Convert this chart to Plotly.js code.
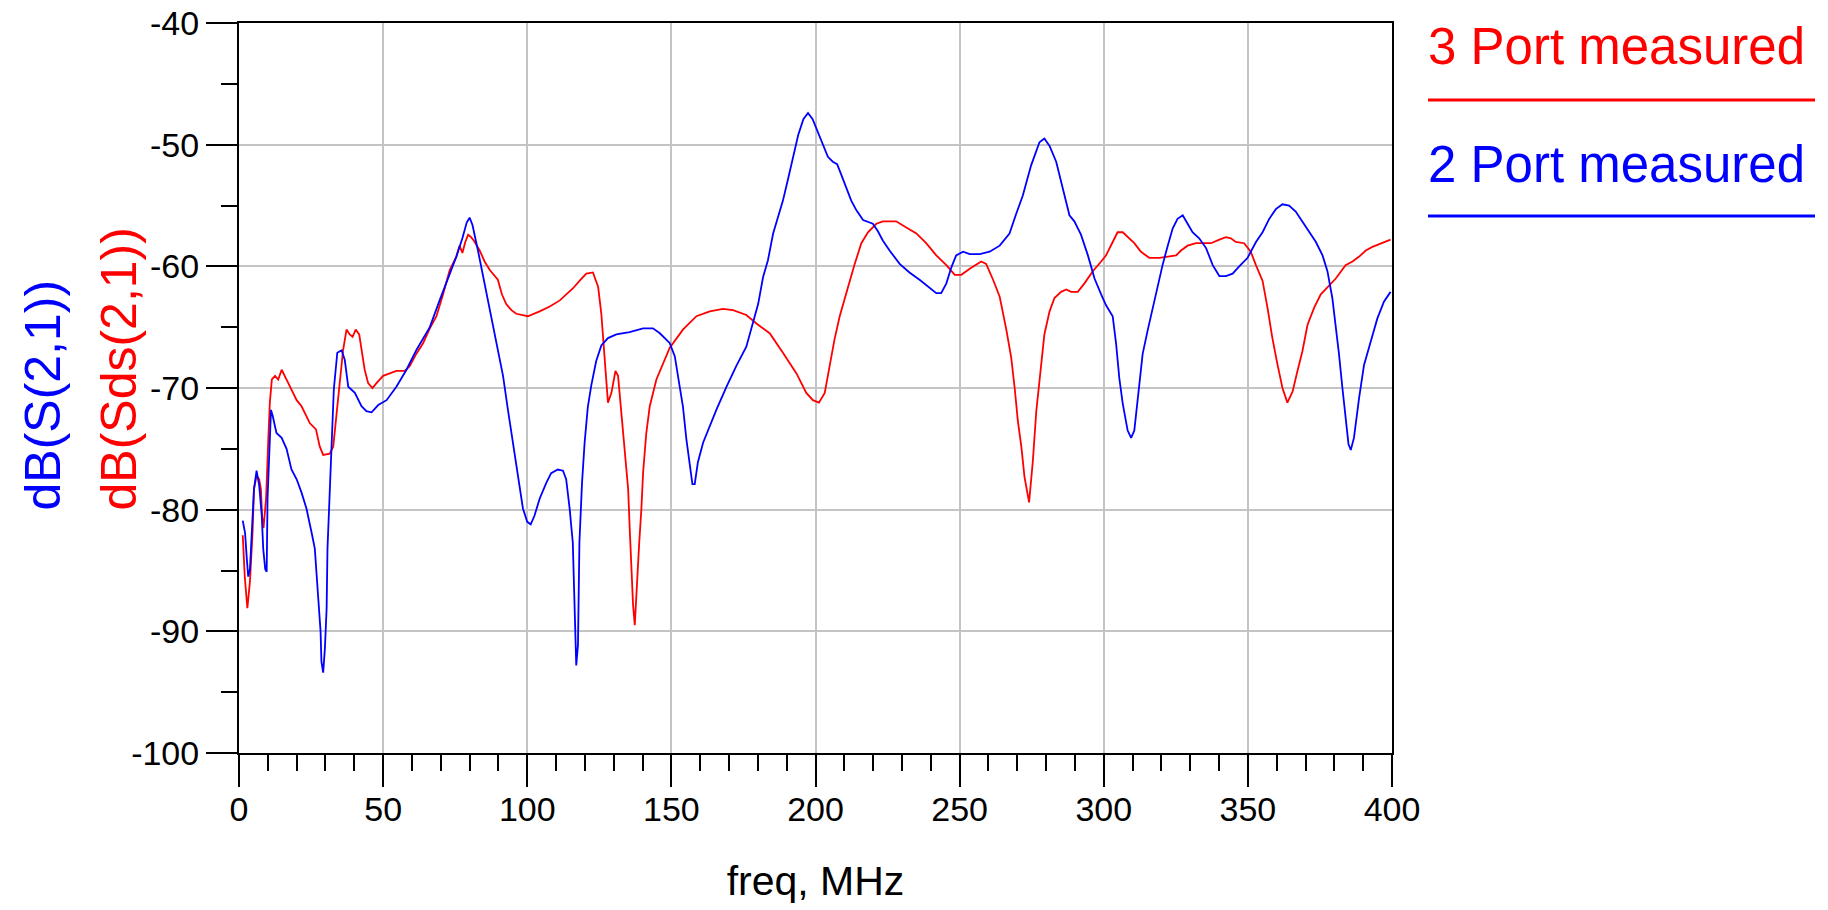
<!DOCTYPE html>
<html>
<head>
<meta charset="utf-8">
<script src="https://cdn.plot.ly/plotly-3.0.1.min.js"></script>
<style>
  html, body { margin: 0; padding: 0; background: #ffffff; }
  #chart { width: 1828px; height: 910px; }
</style>
</head>
<body>
<div id="chart"></div>
<script>
// ---- Data ----
const freqRed = [1.3,2.0,2.9,3.8,4.7,5.2,6.1,7.0,7.6,8.0,8.5,9.4,10.2,10.7,11.4,12.5,13.6,14.8,17.1,20.0,21.7,24.6,26.7,28.0,29.2,31.5,32.7,33.8,35.0,36.1,37.3,38.4,39.4,40.5,41.7,42.5,43.6,44.8,46.3,47.7,50.0,52.3,54.6,57.5,59.2,61.5,63.9,66.2,68.5,70.8,73.1,75.4,76.5,77.5,78.5,79.5,80.5,81.5,83.5,85.2,87.0,89.8,91.2,92.7,94.5,96.2,100.2,104.3,107.8,111.3,115.9,118.5,120.5,122.8,124.6,125.7,126.3,126.9,127.5,128.0,129.2,130.6,131.5,132.7,133.8,135.0,135.5,136.1,136.7,137.3,138.1,138.8,139.6,140.2,141.3,142.5,144.8,147.1,149.4,154.0,158.7,163.3,167.9,171.4,176.0,179.5,184.1,188.7,193.4,196.8,199.1,201.2,203.2,204.9,206.6,208.4,209.5,211.3,213.6,215.9,218.2,221.1,223.4,228.0,231.5,235.0,238.4,241.9,245.4,248.3,250.6,253.5,257.5,259.2,261.6,263.9,266.2,267.9,269.1,270.2,271.4,272.5,274.1,275.4,276.6,277.7,279.4,281.2,282.9,285.2,287.0,288.7,291.0,293.3,296.2,299.1,300.8,303.1,304.8,306.6,308.3,310.6,312.9,315.8,319.3,322.2,325.1,326.8,329.1,332.0,337.2,340.1,342.4,344.1,345.8,348.7,351.0,352.8,355.1,356.8,358.5,360.3,362.0,363.7,365.5,367.2,368.9,370.7,373.0,375.3,377.6,380.5,383.9,386.3,388.6,390.9,393.2,396.1,399.5];
const dbRed = [-82.1,-85.5,-88.1,-85.9,-81.9,-78.3,-77.2,-77.5,-78.3,-80.5,-81.5,-79.1,-74.0,-71.2,-69.3,-69.0,-69.3,-68.5,-69.6,-71.0,-71.5,-72.9,-73.4,-74.8,-75.5,-75.4,-74.8,-72.3,-69.9,-66.9,-65.2,-65.6,-65.8,-65.2,-65.6,-66.9,-68.5,-69.6,-70.0,-69.6,-69.0,-68.8,-68.6,-68.6,-68.2,-67.2,-66.3,-65.1,-64.1,-62.3,-60.3,-59.2,-58.3,-58.9,-58.0,-57.4,-57.6,-57.9,-58.7,-59.6,-60.3,-61.1,-62.3,-63.1,-63.6,-63.9,-64.1,-63.7,-63.3,-62.8,-61.8,-61.1,-60.6,-60.5,-61.7,-63.9,-66.0,-68.2,-69.9,-71.2,-70.4,-68.6,-69.0,-72.0,-75.3,-78.3,-81.3,-84.6,-87.8,-89.5,-85.7,-82.9,-79.9,-76.9,-73.7,-71.5,-69.3,-68.0,-66.7,-65.2,-64.1,-63.7,-63.5,-63.6,-64.0,-64.7,-65.5,-67.1,-68.8,-70.4,-71.0,-71.2,-70.4,-68.2,-66.0,-64.1,-63.1,-61.7,-59.8,-58.1,-57.2,-56.5,-56.3,-56.3,-56.8,-57.3,-58.1,-59.1,-59.9,-60.7,-60.7,-60.2,-59.6,-59.8,-61.1,-62.5,-65.2,-67.5,-70.0,-72.7,-74.8,-77.3,-79.4,-76.0,-71.9,-69.2,-65.6,-63.7,-62.6,-62.1,-61.9,-62.1,-62.1,-61.4,-60.4,-59.6,-59.1,-58.0,-57.2,-57.2,-57.6,-58.1,-58.8,-59.3,-59.3,-59.2,-59.1,-58.7,-58.3,-58.1,-58.1,-57.8,-57.6,-57.7,-58.0,-58.1,-58.8,-59.9,-61.2,-63.4,-65.9,-68.1,-70.0,-71.2,-70.3,-68.6,-67.0,-64.8,-63.4,-62.3,-61.7,-61.0,-59.9,-59.6,-59.2,-58.7,-58.4,-58.1,-57.8];

const freqBlue = [1.3,2.1,2.7,3.2,3.8,4.4,5.2,6.1,7.0,7.9,8.4,9.1,9.6,9.9,10.5,11.1,11.7,13.0,14.8,16.5,18.2,20.0,21.7,23.4,25.2,26.3,27.5,28.3,28.6,29.2,29.8,30.4,30.7,31.5,32.1,32.9,34.1,35.6,36.7,37.9,40.2,42.5,44.2,46.0,48.3,51.2,54.6,58.1,61.5,66.2,69.6,73.1,75.4,77.5,79.0,80.0,81.0,82.9,85.2,87.0,89.3,91.6,93.3,95.0,96.8,98.5,100.0,101.2,102.5,104.3,106.6,108.3,110.6,112.4,113.5,114.7,115.8,116.4,117.0,117.6,118.1,119.0,119.9,121.0,122.2,123.9,125.7,128.0,130.9,135.5,140.2,143.6,146.0,149.4,151.2,152.9,154.0,155.2,156.4,157.3,158.1,159.2,161.0,163.3,165.6,169.1,172.5,176.0,178.3,180.1,181.8,183.5,185.3,187.0,188.7,190.5,192.3,194.0,195.8,197.4,199.0,200.8,202.5,204.3,206.0,207.5,209.0,210.7,212.4,214.2,216.5,219.9,221.6,223.4,225.7,229.2,232.6,236.1,239.6,241.9,243.6,245.4,247.1,248.8,251.2,253.5,257.0,260.4,263.9,267.3,269.6,271.9,274.8,277.7,279.4,281.2,283.5,285.8,288.1,289.8,292.1,294.5,296.8,299.1,300.8,303.1,304.3,305.4,306.6,308.3,309.5,310.6,311.8,313.5,315.2,317.0,318.7,320.4,322.2,323.9,325.6,327.4,329.1,330.8,333.1,335.5,337.8,340.1,342.4,344.7,347.0,349.9,352.8,355.1,357.4,359.7,362.0,364.3,366.6,368.9,371.2,373.6,375.9,377.6,379.3,380.5,381.6,382.8,383.9,384.9,385.7,386.8,388.6,390.3,392.6,394.9,397.2,399.5];
const dbBlue = [-80.9,-81.9,-84.0,-85.5,-84.9,-81.9,-78.3,-76.8,-78.0,-80.5,-83.2,-84.9,-85.1,-79.1,-75.6,-71.8,-72.3,-73.7,-74.1,-75.0,-76.7,-77.5,-78.6,-79.9,-81.9,-83.2,-87.3,-90.0,-92.5,-93.4,-91.4,-88.1,-83.2,-78.6,-75.0,-70.1,-67.1,-66.9,-67.7,-69.9,-70.4,-71.5,-71.9,-72.0,-71.4,-71.0,-69.9,-68.5,-66.9,-65.0,-62.8,-60.6,-59.2,-57.7,-56.4,-56.0,-56.6,-58.7,-61.4,-63.6,-66.0,-69.0,-71.8,-74.5,-77.5,-79.9,-81.0,-81.2,-80.5,-79.1,-77.8,-77.0,-76.7,-76.8,-77.5,-79.9,-82.7,-87.8,-92.8,-91.1,-82.7,-77.8,-74.5,-71.6,-69.8,-67.8,-66.5,-65.9,-65.6,-65.4,-65.1,-65.1,-65.5,-66.3,-67.4,-69.9,-71.5,-74.2,-76.4,-77.9,-77.9,-76.1,-74.5,-73.1,-71.8,-69.9,-68.2,-66.6,-64.7,-63.1,-60.9,-59.5,-57.3,-56.0,-54.6,-52.8,-50.8,-49.2,-47.9,-47.4,-47.9,-49.0,-50.0,-51.0,-51.4,-51.6,-52.5,-53.6,-54.6,-55.4,-56.2,-56.5,-57.1,-57.9,-58.7,-59.8,-60.5,-61.1,-61.8,-62.2,-62.2,-61.4,-60.1,-59.1,-58.8,-59.0,-59.0,-58.8,-58.3,-57.3,-55.7,-54.2,-51.7,-49.8,-49.5,-50.1,-51.4,-53.6,-55.8,-56.3,-57.4,-59.1,-61.0,-62.3,-63.2,-64.1,-66.4,-69.2,-71.3,-73.5,-74.1,-73.5,-70.8,-67.2,-65.3,-63.4,-61.5,-59.9,-58.3,-56.9,-56.1,-55.8,-56.5,-57.2,-57.7,-58.5,-59.9,-60.8,-60.8,-60.6,-60.0,-59.3,-58.0,-57.2,-56.1,-55.3,-54.9,-55.0,-55.5,-56.3,-57.2,-58.0,-59.1,-60.4,-62.6,-64.8,-67.2,-70.0,-72.7,-74.6,-75.1,-74.1,-70.8,-68.1,-66.2,-64.3,-62.9,-62.1];

const seriesNames = ['3 Port measured', '2 Port measured'];
const yTitles = ['dB(S(2,1))', 'dB(Sds(2,1))'];
const xTitle = 'freq, MHz';
const xTickVals = [0, 50, 100, 150, 200, 250, 300, 350, 400];
const yTickVals = [-100, -90, -80, -70, -60, -50, -40];
const yTickText = yTickVals.map(v => String(v));
const xTickText = xTickVals.map(v => String(v));

// ---- Layout geometry ----
const W = 1828, H = 910;
const L = 239, R = 1392, T = 23, B = 753;
const pw = R - L, ph = B - T;
const px = x => (x - L) / pw;
const py = y => (B - y) / ph;

const RED = '#ff0000', BLUE = '#0000ff';
const FONT = 'Liberation Sans, Arial, sans-serif';

const traces = [
  { x: freqRed, y: dbRed, type: 'scatter', mode: 'lines', name: seriesNames[0],
    line: { color: RED, width: 1.8 } },
  { x: freqBlue, y: dbBlue, type: 'scatter', mode: 'lines', name: seriesNames[1],
    line: { color: BLUE, width: 1.8 } }
];

const axisCommon = {
  showline: true, linecolor: '#000000', linewidth: 2, mirror: true,
  showgrid: true, gridcolor: '#c4c4c4', gridwidth: 2,
  zeroline: false, ticks: 'outside', tickcolor: '#000000', tickwidth: 2,
  tickfont: { family: FONT, size: 34, color: '#000000' },
  tickmode: 'array', fixedrange: true
};

const layout = {
  width: W, height: H,
  margin: { l: L, r: W - R, t: T, b: H - B, pad: 0 },
  paper_bgcolor: '#ffffff', plot_bgcolor: '#ffffff',
  showlegend: false,
  font: { family: FONT },
  xaxis: Object.assign({}, axisCommon, {
    range: [0, 400], tickvals: xTickVals, ticktext: xTickText, ticklen: 32,
    ticklabelstandoff: -7,
    minor: { tickmode: 'linear', tick0: 0, dtick: 10, ticklen: 16, tickwidth: 2,
             tickcolor: '#000000', showgrid: false },
    title: { text: xTitle, font: { family: FONT, size: 41, color: '#000000' }, standoff: 40 }
  }),
  yaxis: Object.assign({}, axisCommon, {
    range: [-100, -40], tickvals: yTickVals, ticktext: yTickText, ticklen: 31,
    minor: { tickmode: 'linear', tick0: -100, dtick: 5, ticklen: 16, tickwidth: 2,
             tickcolor: '#000000', showgrid: false }
  }),
  annotations: [
    { text: yTitles[0], textangle: -90, xref: 'paper', yref: 'paper',
      x: px(42), y: py(513), xanchor: 'center', yanchor: 'bottom', showarrow: false,
      font: { family: FONT, size: 50, color: BLUE } },
    { text: yTitles[1], textangle: -90, xref: 'paper', yref: 'paper',
      x: px(118), y: py(513), xanchor: 'center', yanchor: 'bottom', showarrow: false,
      font: { family: FONT, size: 50, color: RED } },
    { text: seriesNames[0], xref: 'paper', yref: 'paper',
      x: px(1426), y: py(47), xanchor: 'left', yanchor: 'middle', showarrow: false,
      font: { family: FONT, size: 51, color: RED } },
    { text: seriesNames[1], xref: 'paper', yref: 'paper',
      x: px(1426), y: py(164), xanchor: 'left', yanchor: 'middle', showarrow: false,
      font: { family: FONT, size: 51, color: BLUE } }
  ],
  shapes: [
    { type: 'line', xref: 'paper', yref: 'paper', x0: px(1428), x1: px(1815),
      y0: py(100), y1: py(100), line: { color: RED, width: 3 } },
    { type: 'line', xref: 'paper', yref: 'paper', x0: px(1428), x1: px(1815),
      y0: py(216), y1: py(216), line: { color: BLUE, width: 3 } }
  ]
};

Plotly.newPlot('chart', traces, layout, { displayModeBar: false, staticPlot: true });
</script>
</body>
</html>
